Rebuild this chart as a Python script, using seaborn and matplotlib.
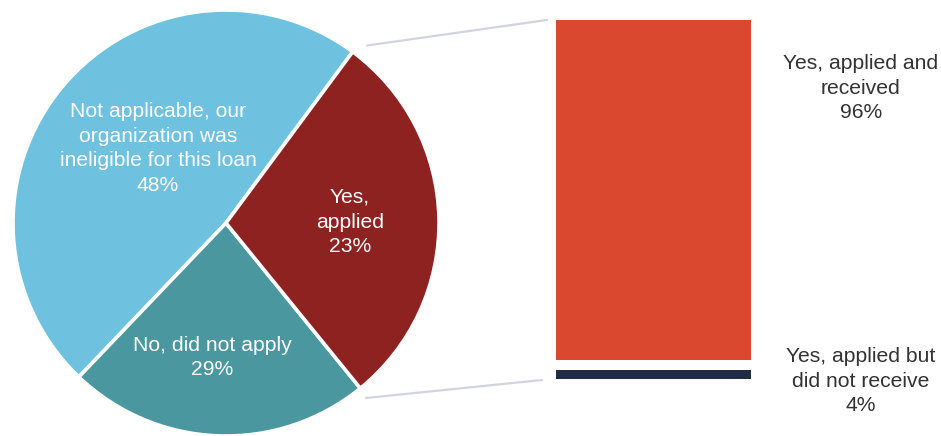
import matplotlib
matplotlib.use("Agg")
import matplotlib.pyplot as plt
import seaborn as sns
import pandas as pd
from matplotlib.lines import Line2D

# ---------------- data ----------------
pie_categories = ["Not applicable, our\norganization was\nineligible for this loan",
                  "No, did not apply", "Yes,\napplied"]
pie_label_pcts = [48, 29, 23]          # percentages printed on the slices
pie_wedge_shares = [48, 23, 29]        # slice sizes as drawn in the picture
pie_colors = ["#6EC1DF", "#4A979F", "#8E2221"]

bar_categories = ["Yes, applied and\nreceived", "Yes, applied but\ndid not receive"]
bar_values = [96, 4]
bar_colors = ["#D9482F", "#222B45"]

# ---------------- figure ----------------
sns.set_theme(style="white")
plt.rcParams["font.family"] = ["Liberation Sans", "DejaVu Sans"]

W, H = 941, 436
fig = plt.figure(figsize=(W / 100, H / 100), dpi=100)
fig.patch.set_facecolor("white")

def fx(px):
    return px / W

def fy(py):
    return 1 - py / H

# pie axes: center (226, 223), radius 213 px
cx, cy, r = 226, 223, 213
ax_pie = fig.add_axes([fx(cx - r), fy(cy + r), 2 * r / W, 2 * r / H])
ax_pie.pie(pie_wedge_shares, colors=pie_colors, startangle=53.5, counterclock=True,
           radius=1, wedgeprops=dict(edgecolor="white", linewidth=2.6))
ax_pie.set_xlim(-1, 1)
ax_pie.set_ylim(-1, 1)
ax_pie.set_aspect("auto")
ax_pie.axis("off")

pie_text_pos = [(158, 148.5), (212, 357.5), (350, 222)]
for cat, pct, (px, py) in zip(pie_categories, pie_label_pcts, pie_text_pos):
    ax_pie.text((px - cx) / r, (cy - py) / r, f"{cat}\n{pct}%", ha="center", va="center",
                color="white", fontsize=15.2, linespacing=1.37)

# bar axes: bar spans x 556-751, y 20-379 px
ax_bar = fig.add_axes([fx(556), fy(379), 195 / W, 359 / H])
df_total = pd.DataFrame({"x": ["bar"], "y": [sum(bar_values)]})
df_bottom = pd.DataFrame({"x": ["bar"], "y": [bar_values[1]]})
sns.barplot(data=df_total, x="x", y="y", color=bar_colors[0], width=1.0,
            saturation=1, ax=ax_bar, linewidth=0)
sns.barplot(data=df_bottom, x="x", y="y", color=bar_colors[1], width=1.0,
            saturation=1, ax=ax_bar, linewidth=0)
ax_bar.axhline(bar_values[1], color="white", lw=7.2)
ax_bar.set_xlim(-0.5, 0.5)
ax_bar.set_ylim(0, sum(bar_values))
ax_bar.axis("off")

# bar labels
bar_text_pos = [(861, 88), (861, 381)]
for cat, val, (px, py) in zip(bar_categories, bar_values, bar_text_pos):
    fig.text(fx(px), fy(py), f"{cat}\n{val}%", ha="center", va="center",
             color="#333333", fontsize=15.2, linespacing=1.37)

# connector lines
for (x0, y0), (x1, y1) in [((367, 45.5), (547, 20)), ((366, 398), (542, 380))]:
    fig.add_artist(Line2D([fx(x0), fx(x1)], [fy(y0), fy(y1)], color="#D2D5DE", lw=1.6))

fig.savefig("out.png", dpi=100, facecolor="white")
